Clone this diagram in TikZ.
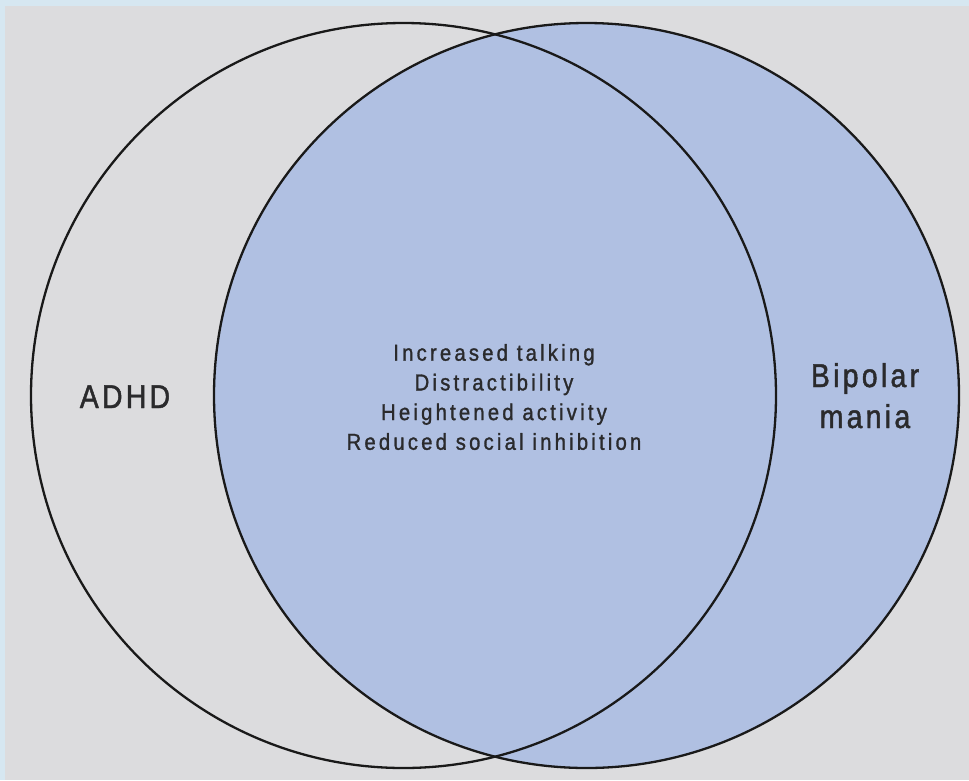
\documentclass[tikz,border=0pt]{standalone}
\usepackage{fontspec}
\newfontfamily\lblfont{Liberation Sans}[FakeStretch=0.86,LetterSpace=10,FakeBold=1.4]
\newfontfamily\itemfont{Liberation Sans}[FakeStretch=0.88,LetterSpace=14,FakeBold=1.3]
\definecolor{bggray}{HTML}{DCDCDE}
\definecolor{bandblue}{HTML}{D6E7F1}
\definecolor{fillblue}{HTML}{B0C0E2}
\definecolor{inkgray}{HTML}{2A2A2C}
\tikzset{
  setcircle/.style={circle, minimum size=745pt, inner sep=0pt, outer sep=0pt},
  setoutline/.style={line width=2.3pt, draw=black!90},
  biglabel/.style={font=\lblfont\fontsize{33}{41}\selectfont, text=inkgray, inner sep=0pt, align=center},
  itemlabel/.style={font=\itemfont\fontsize{23}{29.7}\selectfont, text=inkgray, inner sep=0pt, align=center}
}
\begin{document}
\begin{tikzpicture}[x=1pt,y=-1pt]
  \useasboundingbox (0,0) rectangle (969,780);
  \fill[bggray] (0,0) rectangle (969,780);
  \fill[bandblue] (0,0) rectangle (969,6);
  \fill[bandblue] (0,0) rectangle (5,780);
  \node[setcircle, fill=fillblue] (bipolar) at (586.5,395.5) {};
  \node[setcircle] (adhd) at (403.5,395.5) {};
  \draw[setoutline] (bipolar.center) circle[radius=372.5pt];
  \draw[setoutline] (adhd.center) circle[radius=372.5pt];
  \node[biglabel, anchor=base] (adhdlbl) at (125,408) {ADHD};
  \node[biglabel, anchor=base] (bplbl) at (865,428) {Bipolar\\mania};
  \node[itemlabel] (shared) at (494,397) {Increased talking\\Distractibility\\Heightened activity\\Reduced social inhibition};
\end{tikzpicture}
\end{document}
